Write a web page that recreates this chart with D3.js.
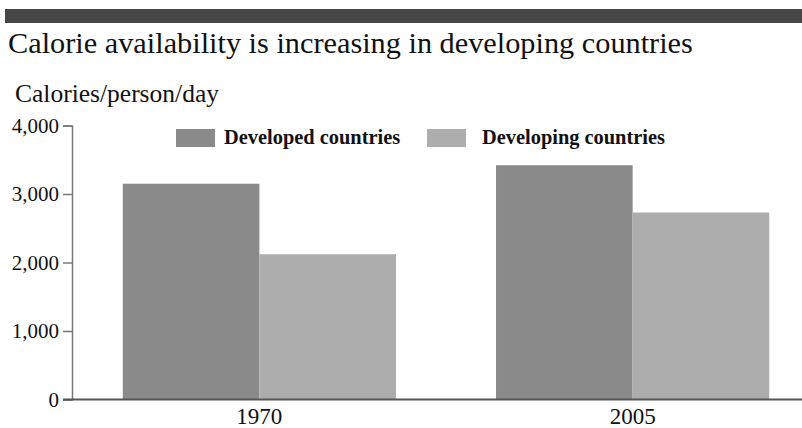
<!DOCTYPE html>
<html>
<head>
<meta charset="utf-8">
<script src="https://cdn.jsdelivr.net/npm/d3@7/dist/d3.min.js"></script>
<style>
  html, body { margin: 0; padding: 0; background: #fff; }
  svg { display: block; font-family: "Liberation Serif", "Times New Roman", serif; }
</style>
</head>
<body>
<svg id="chart" width="802" height="428"></svg>
<script>
// Data
const years = ["1970", "2005"];
const seriesNames = ["Developed countries", "Developing countries"];
const developed = [3150, 3420];
const developing = [2120, 2730];
const yTicks = [0, 1000, 2000, 3000, 4000];

const colors = ["#8a8a8a", "#adadad"];
const series = [developed, developing];

const svg = d3.select("#chart");
const W = 802, H = 428;

// Header rule
svg.append("rect").attr("x", 5).attr("y", 9).attr("width", W - 5).attr("height", 14).attr("fill", "#464646");

// Title
svg.append("text").attr("x", 8).attr("y", 53)
  .attr("font-size", 30.3).attr("fill", "#111")
  .text("Calorie availability is increasing in developing countries");

// Unit label
svg.append("text").attr("x", 15).attr("y", 102)
  .attr("font-size", 25.5).attr("fill", "#111")
  .text("Calories/person/day");

// Scales
const y = d3.scaleLinear().domain([0, 4000]).range([399.5, 125.5]);
const x0 = d3.scaleBand().domain(years).range([72, 820]).paddingInner(0.268).paddingOuter(0.136);
const x1 = d3.scaleBand().domain(d3.range(seriesNames.length)).range([0, x0.bandwidth()]);

// Bars
const groups = svg.append("g").selectAll("g").data(years).join("g")
  .attr("transform", d => `translate(${x0(d)},0)`);
groups.selectAll("rect")
  .data((d, i) => series.map((s, k) => ({ k, v: s[i] })))
  .join("rect")
  .attr("x", d => x1(d.k))
  .attr("width", x1.bandwidth())
  .attr("y", d => y(d.v))
  .attr("height", d => y(0) - y(d.v))
  .attr("fill", d => colors[d.k]);

// Y axis
const yAxis = svg.append("g").attr("transform", "translate(72,0)")
  .call(d3.axisLeft(y).tickValues(yTicks).tickFormat(d3.format(",")).tickSize(9).tickPadding(4));
yAxis.select(".domain").attr("stroke", "#777").attr("stroke-width", 1.5);
yAxis.selectAll(".tick line").attr("stroke", "#777").attr("stroke-width", 1.5);
yAxis.selectAll(".tick text").attr("font-size", 21).attr("fill", "#111")
  .attr("font-family", "Liberation Serif, Times New Roman, serif");

// Baseline
svg.append("line").attr("x1", 63).attr("x2", W).attr("y1", y(0)).attr("y2", y(0))
  .attr("stroke", "#555").attr("stroke-width", 2);

// Category labels
svg.append("g").selectAll("text").data(years).join("text")
  .attr("x", d => x0(d) + x0.bandwidth() / 2)
  .attr("y", 424)
  .attr("text-anchor", "middle")
  .attr("font-size", 23).attr("fill", "#111")
  .text(d => d);

// Legend
const legendX = [176, 427];
const legend = svg.append("g").selectAll("g").data(seriesNames).join("g")
  .attr("transform", (d, i) => `translate(${legendX[i]},129)`);
legend.append("rect").attr("width", 39).attr("height", 18).attr("fill", (d, i) => colors[i]);
legend.append("text").attr("x", (d, i) => i === 0 ? 48 : 55).attr("y", 14.5)
  .attr("font-size", 20.4).attr("font-weight", "bold").attr("fill", "#111")
  .text(d => d);
</script>
</body>
</html>
